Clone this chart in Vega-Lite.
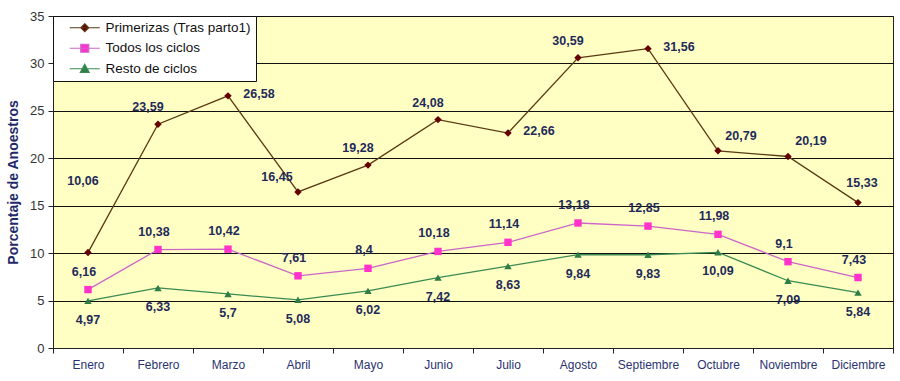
{
  "$schema": "https://vega.github.io/schema/vega-lite/v6.json",
  "autosize": "none",
  "padding": {"left": 53, "top": 16, "right": 7, "bottom": 33},
  "width": 840,
  "height": 332,
  "background": "white",
  "config": {
    "view": {"fill": "#FFFFC4", "stroke": "#222222", "strokeWidth": 1},
    "font": "Liberation Sans",
    "locale": {"number": {"decimal": ",", "thousands": ".", "grouping": [3], "currency": ["", " €"]}}
  },
  "data": {
    "values": [
      {"month": "Enero", "serie": "Primerizas (Tras parto1)", "value": 10.06},
      {"month": "Febrero", "serie": "Primerizas (Tras parto1)", "value": 23.59},
      {"month": "Marzo", "serie": "Primerizas (Tras parto1)", "value": 26.58},
      {"month": "Abril", "serie": "Primerizas (Tras parto1)", "value": 16.45},
      {"month": "Mayo", "serie": "Primerizas (Tras parto1)", "value": 19.28},
      {"month": "Junio", "serie": "Primerizas (Tras parto1)", "value": 24.08},
      {"month": "Julio", "serie": "Primerizas (Tras parto1)", "value": 22.66},
      {"month": "Agosto", "serie": "Primerizas (Tras parto1)", "value": 30.59},
      {"month": "Septiembre", "serie": "Primerizas (Tras parto1)", "value": 31.56},
      {"month": "Octubre", "serie": "Primerizas (Tras parto1)", "value": 20.79},
      {"month": "Noviembre", "serie": "Primerizas (Tras parto1)", "value": 20.19},
      {"month": "Diciembre", "serie": "Primerizas (Tras parto1)", "value": 15.33},
      {"month": "Enero", "serie": "Todos los ciclos", "value": 6.16},
      {"month": "Febrero", "serie": "Todos los ciclos", "value": 10.38},
      {"month": "Marzo", "serie": "Todos los ciclos", "value": 10.42},
      {"month": "Abril", "serie": "Todos los ciclos", "value": 7.61},
      {"month": "Mayo", "serie": "Todos los ciclos", "value": 8.4},
      {"month": "Junio", "serie": "Todos los ciclos", "value": 10.18},
      {"month": "Julio", "serie": "Todos los ciclos", "value": 11.14},
      {"month": "Agosto", "serie": "Todos los ciclos", "value": 13.18},
      {"month": "Septiembre", "serie": "Todos los ciclos", "value": 12.85},
      {"month": "Octubre", "serie": "Todos los ciclos", "value": 11.98},
      {"month": "Noviembre", "serie": "Todos los ciclos", "value": 9.1},
      {"month": "Diciembre", "serie": "Todos los ciclos", "value": 7.43},
      {"month": "Enero", "serie": "Resto de ciclos", "value": 4.97},
      {"month": "Febrero", "serie": "Resto de ciclos", "value": 6.33},
      {"month": "Marzo", "serie": "Resto de ciclos", "value": 5.7},
      {"month": "Abril", "serie": "Resto de ciclos", "value": 5.08},
      {"month": "Mayo", "serie": "Resto de ciclos", "value": 6.02},
      {"month": "Junio", "serie": "Resto de ciclos", "value": 7.42},
      {"month": "Julio", "serie": "Resto de ciclos", "value": 8.63},
      {"month": "Agosto", "serie": "Resto de ciclos", "value": 9.84},
      {"month": "Septiembre", "serie": "Resto de ciclos", "value": 9.83},
      {"month": "Octubre", "serie": "Resto de ciclos", "value": 10.09},
      {"month": "Noviembre", "serie": "Resto de ciclos", "value": 7.09},
      {"month": "Diciembre", "serie": "Resto de ciclos", "value": 5.84}
    ]
  },
  "encoding": {
    "x": {
      "field": "month", "type": "nominal", "sort": null,
      "scale": {"type": "band", "paddingInner": 0, "paddingOuter": 0,
        "domain": ["Enero","Febrero","Marzo","Abril","Mayo","Junio","Julio","Agosto","Septiembre","Octubre","Noviembre","Diciembre"]},
      "axis": {"title": null, "labelAngle": 0, "tickBand": "extent", "domain": true, "domainColor": "#222222",
        "tickColor": "#222222", "tickSize": 5, "labelPadding": 6, "labelFontSize": 12, "labelColor": "#2A3370",
        "labelFont": "Liberation Sans", "grid": false}
    },
    "y": {
      "field": "value", "type": "quantitative",
      "scale": {"domain": [0, 35], "nice": false},
      "axis": {"title": "Porcentaje de Anoestros", "titleFontSize": 14, "titleFontWeight": "bold", "titleColor": "#1F2A6A",
        "titlePadding": 9, "values": [0,5,10,15,20,25,30,35], "grid": true, "gridColor": "#111111", "gridWidth": 1,
        "domainColor": "#222222", "tickColor": "#222222", "tickSize": 5, "labelFontSize": 13, "labelColor": "#333333",
        "labelPadding": 4, "labelFont": "Liberation Sans"}
    }
  },
  "layer": [
    {
      "transform": [{"filter": "datum.serie == 'Primerizas (Tras parto1)'"}],
      "mark": {"type": "line", "strokeWidth": 1.3, "color": "#5A3A14"},
      "encoding": {}
    },
    {
      "transform": [{"filter": "datum.serie == 'Todos los ciclos'"}],
      "mark": {"type": "line", "strokeWidth": 1.3, "color": "#CC66C8"},
      "encoding": {}
    },
    {
      "transform": [{"filter": "datum.serie == 'Resto de ciclos'"}],
      "mark": {"type": "line", "strokeWidth": 1.3, "color": "#3A8A52"},
      "encoding": {}
    },
    {
      "transform": [{"filter": "datum.serie == 'Primerizas (Tras parto1)'"}],
      "mark": {"type": "point", "filled": true, "opacity": 1, "size": 55, "shape": "diamond", "color": "#660000"},
      "encoding": {}
    },
    {
      "transform": [{"filter": "datum.serie == 'Todos los ciclos'"}],
      "mark": {"type": "point", "filled": true, "opacity": 1, "size": 55, "shape": "square", "color": "#FF33CC"},
      "encoding": {}
    },
    {
      "transform": [{"filter": "datum.serie == 'Resto de ciclos'"}],
      "mark": {"type": "point", "filled": true, "opacity": 1, "size": 55, "shape": "triangle-up", "color": "#2E7D46"},
      "encoding": {}
    },
    {
      "transform": [{"filter": "false"}],
      "mark": {"type": "point", "filled": true, "opacity": 1, "strokeWidth": 1.2},
      "encoding": {
        "color": {"field": "serie", "type": "nominal",
          "scale": {"domain": ["Primerizas (Tras parto1)", "Todos los ciclos", "Resto de ciclos"], "range": ["#660000", "#FF33CC", "#2E7D46"]},
          "legend": {"title": null, "orient": "top-left", "offset": 0, "fillColor": "white", "strokeColor": "#111111",
            "padding": 5, "labelFontSize": 13.5, "labelColor": "#111111", "labelFont": "Liberation Sans", "symbolSize": 64,
            "rowPadding": 5.5, "labelOffset": 34, "symbolStrokeWidth": 1.2}},
        "stroke": {"field": "serie", "type": "nominal",
          "scale": {"domain": ["Primerizas (Tras parto1)", "Todos los ciclos", "Resto de ciclos"], "range": ["#5A3A14", "#CC66C8", "#3A8A52"]},
          "legend": {"title": null, "orient": "top-left", "offset": 0, "fillColor": "white", "strokeColor": "#111111",
            "padding": 5, "labelFontSize": 13.5, "labelColor": "#111111", "labelFont": "Liberation Sans", "symbolSize": 64,
            "rowPadding": 5.5, "labelOffset": 34, "symbolStrokeWidth": 1.2}},
        "shape": {"field": "serie", "type": "nominal",
          "scale": {"domain": ["Primerizas (Tras parto1)", "Todos los ciclos", "Resto de ciclos"],
            "range": ["M1.25,0L8.75,0M5,-1L6,0L5,1L4,0Z", "M1.25,0L8.75,0M4,-1L6,-1L6,1L4,1Z", "M1.25,0L8.75,0M5,-1.1L6.1,0.9L3.9,0.9Z"]},
          "legend": {"title": null, "orient": "top-left", "offset": 0, "fillColor": "white", "strokeColor": "#111111",
            "padding": 5, "labelFontSize": 13.5, "labelColor": "#111111", "labelFont": "Liberation Sans", "symbolSize": 64,
            "rowPadding": 5.5, "labelOffset": 34, "symbolStrokeWidth": 1.2}}
      }
    },
    {
      "transform": [{"filter": "datum.serie == 'Primerizas (Tras parto1)' && indexof(['Febrero','Mayo','Junio','Agosto'], datum.month) >= 0"}],
      "mark": {"type": "text", "fontWeight": "bold", "fontSize": 12.5, "color": "#1F2A5A", "dx": -10, "dy": -17},
      "encoding": {"text": {"field": "value", "type": "quantitative", "format": ".2~f"}}
    },
    {
      "transform": [{"filter": "datum.serie == 'Primerizas (Tras parto1)' && datum.month == 'Abril'"}],
      "mark": {"type": "text", "fontWeight": "bold", "fontSize": 12.5, "color": "#1F2A5A", "dx": -21, "dy": -15},
      "encoding": {"text": {"field": "value", "type": "quantitative", "format": ".2~f"}}
    },
    {
      "transform": [{"filter": "datum.serie == 'Primerizas (Tras parto1)' && datum.month == 'Diciembre'"}],
      "mark": {"type": "text", "fontWeight": "bold", "fontSize": 12.5, "color": "#1F2A5A", "dx": 4, "dy": -20},
      "encoding": {"text": {"field": "value", "type": "quantitative", "format": ".2~f"}}
    },
    {
      "transform": [{"filter": "datum.serie == 'Primerizas (Tras parto1)' && datum.month == 'Enero'"}],
      "mark": {"type": "text", "fontWeight": "bold", "fontSize": 12.5, "color": "#1F2A5A", "dx": -5, "dy": -72},
      "encoding": {"text": {"field": "value", "type": "quantitative", "format": ".2~f"}}
    },
    {
      "transform": [{"filter": "datum.serie == 'Primerizas (Tras parto1)' && indexof(['Marzo','Julio','Septiembre'], datum.month) >= 0"}],
      "mark": {"type": "text", "fontWeight": "bold", "fontSize": 12.5, "color": "#1F2A5A", "dx": 31, "dy": -2},
      "encoding": {"text": {"field": "value", "type": "quantitative", "format": ".2~f"}}
    },
    {
      "transform": [{"filter": "datum.serie == 'Primerizas (Tras parto1)' && indexof(['Octubre','Noviembre'], datum.month) >= 0"}],
      "mark": {"type": "text", "fontWeight": "bold", "fontSize": 12.5, "color": "#1F2A5A", "dx": 23, "dy": -15},
      "encoding": {"text": {"field": "value", "type": "quantitative", "format": ".2~f"}}
    },
    {
      "transform": [{"filter": "datum.serie == 'Todos los ciclos'"}],
      "mark": {"type": "text", "fontWeight": "bold", "fontSize": 12.5, "color": "#1F2A5A", "dx": -4, "dy": -18},
      "encoding": {"text": {"field": "value", "type": "quantitative", "format": ".2~f"}}
    },
    {
      "transform": [{"filter": "datum.serie == 'Resto de ciclos'"}],
      "mark": {"type": "text", "fontWeight": "bold", "fontSize": 12.5, "color": "#1F2A5A", "dx": 0, "dy": 19},
      "encoding": {"text": {"field": "value", "type": "quantitative", "format": ".2~f"}}
    }
  ]
}
